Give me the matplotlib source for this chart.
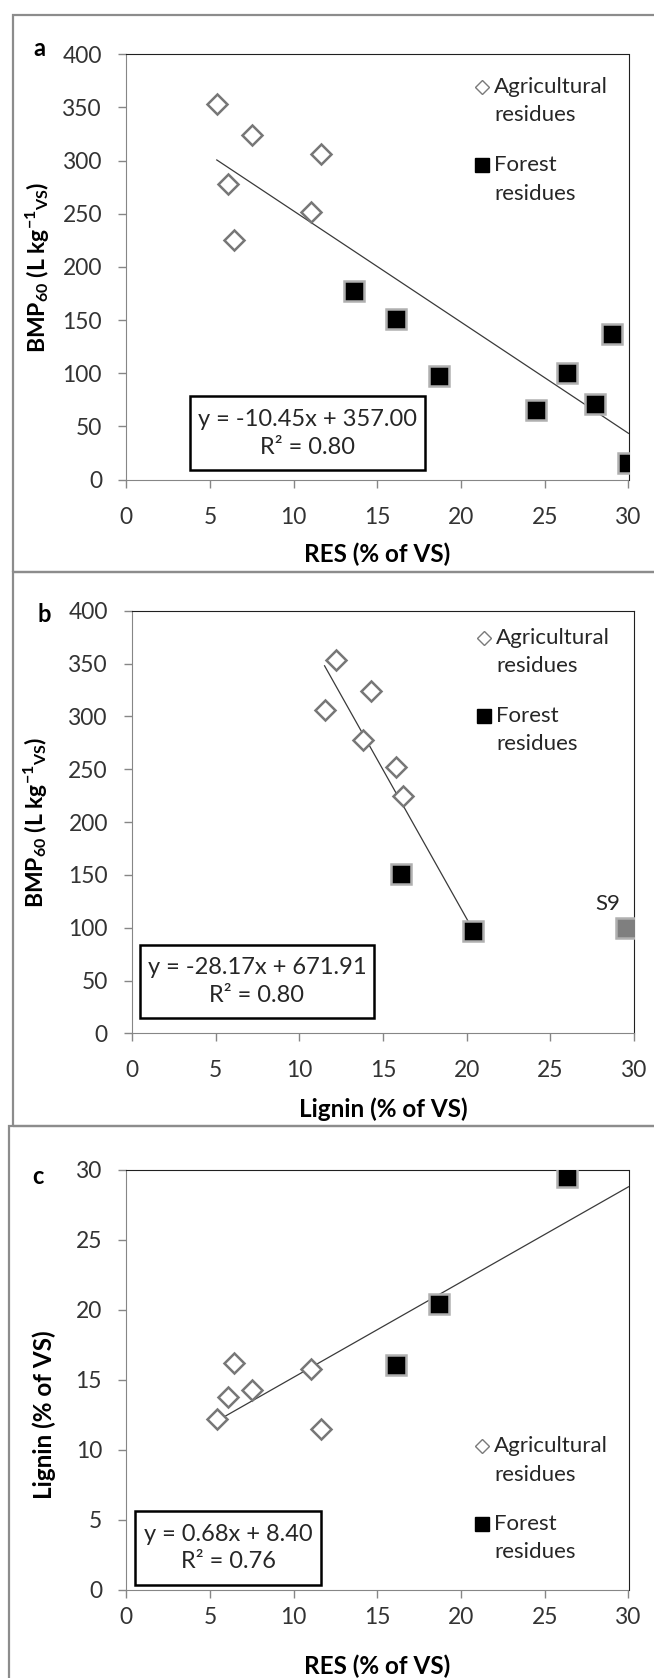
import numpy as np
import matplotlib
matplotlib.use("Agg")
import matplotlib.pyplot as plt
from matplotlib.patches import Rectangle

plt.rcParams['font.family'] = ['Lato', 'DejaVu Sans']
plt.rcParams['mathtext.default'] = 'regular'

# agricultural residues (same sample order in all lists)
ag_res = [5.4, 7.5, 11.6, 6.1, 11.0, 6.4]
ag_bmp = [353, 324, 306, 278, 252, 225]
ag_lignin = [12.2, 14.3, 11.5, 13.8, 15.8, 16.2]

# forest residues, lignin only measured for three of them
forest_res = [13.6, 16.1, 18.7, 24.5, 26.3, 28.0, 29.0, 30.0]
forest_bmp = [177, 151, 97, 65, 100, 71, 137, 16]
forest_lignin = [np.nan, 16.1, 20.4, np.nan, 29.5, np.nan, np.nan, np.nan]
outlier = 4  # S9, left out of the lignin fit

# trend lines as printed on the chart: slope, intercept, r2
fit_a = (-10.45, 357.00, 0.80)
fit_b = (-28.17, 671.91, 0.80)
fit_c = (0.68, 8.40, 0.76)

TICK_FS = 16.4
LEG_FS = 16
LAB_FS = 17.5
EQ_FS = 17
W, H = 654, 1678
fig = plt.figure(figsize=(W / 100, H / 100), dpi=100)


def px_axes(left, top, right, bottom):
    return fig.add_axes([left / W, 1 - bottom / H, (right - left) / W, (bottom - top) / H])


def frame(left, top, bottom):
    fig.patches.append(Rectangle((left / W, 1 - bottom / H), 1.2, (bottom - top) / H,
                                 transform=fig.transFigure, fill=False,
                                 ec='#8c8c8c', lw=1.6, zorder=0))


def style(ax, ymax, ystep, xpad):
    ax.set_xlim(0, 30)
    ax.set_ylim(0, ymax)
    ax.set_xticks(np.arange(0, 31, 5))
    ax.set_yticks(np.arange(0, ymax + 1, ystep))
    for s in ['left', 'bottom']:
        ax.spines[s].set_color('#868686')
    for s in ['top', 'right']:
        ax.spines[s].set_color('#202020')
    ax.tick_params(direction='out', length=5.5, width=1, color='#868686',
                   labelsize=TICK_FS, labelcolor='#333333')
    ax.tick_params(axis='x', pad=xpad)
    ax.tick_params(axis='y', pad=12)


def points(ax, ax_x, ay, fx, fy):
    ax.plot(ax_x, ay, 'D', ms=10, mfc='white', mec='#777777', mew=1.8, zorder=3)
    ax.plot(fx, fy, 's', ms=14, mfc='black', mec='#b0b0b0', mew=1.8, zorder=3)


def trend(ax, fit, x0, x1):
    xs = np.array([x0, x1])
    ax.plot(xs, fit[0] * xs + fit[1], color='#3a3a3a', lw=0.9, zorder=2)


def eq_box(ax, fit, x0, y0, x1, y1):
    ax.add_patch(Rectangle((x0, y0), x1 - x0, y1 - y0, transform=ax.transAxes,
                           fill=True, fc='white', ec='black', lw=1.8, zorder=4))
    txt = 'y = %.2fx + %.2f\nR² = %.2f' % (fit[0], fit[1], fit[2])
    ax.text((x0 + x1) / 2, (y0 + y1) / 2, txt, transform=ax.transAxes,
            ha='center', va='center', fontsize=EQ_FS, color='#262626',
            linespacing=1.4, zorder=5)


def legend(ax, x, y):
    ax.plot([x], [y], 'D', ms=7.5, mfc='white', mec='#7a7a7a', mew=1.0,
            transform=ax.transAxes, clip_on=False)
    ax.plot([x], [y - 0.185], 's', ms=9.5, mfc='black', mec='black',
            transform=ax.transAxes, clip_on=False)
    for dy, t in [(0, 'Agricultural'), (-0.067, 'residues'),
                  (-0.185, 'Forest'), (-0.252, 'residues')]:
        ax.text(x + 0.025, y + dy, t, transform=ax.transAxes, ha='left',
                va='center', fontsize=LEG_FS, color='#262626')


def labels(ax, xl, yl, xy_x, xy_y, yx, yy, yfs=LAB_FS):
    ax.set_xlabel(xl, fontsize=LAB_FS, fontweight='bold')
    ax.set_ylabel(yl, fontsize=yfs, fontweight='bold')
    ax.xaxis.set_label_coords(xy_x, xy_y)
    ax.xaxis.label.set_va('center')
    ax.yaxis.set_label_coords(yx, yy)
    ax.yaxis.label.set_va('center')


bmp_label = r'BMP$_{60}$ (L kg$^{-1}{}_{VS}$)'

# panel a
frame(12.5, 14.6, 572)
ax_a = px_axes(126.4, 54.2, 628.5, 479.6)
style(ax_a, 400, 50, 14)
points(ax_a, ag_res, ag_bmp, forest_res, forest_bmp)
all_res = ag_res + forest_res
trend(ax_a, fit_a, min(all_res), max(all_res))
eq_box(ax_a, fit_a, 0.126, 0.0215, 0.5955, 0.1965)
legend(ax_a, 0.7076, 0.9234)
labels(ax_a, 'RES (% of VS)', bmp_label, 0.5, -0.1765, -0.177, 0.5, 16.5)
fig.text(39.6 / W, 1 - 48 / H, 'a', fontsize=17, fontweight='bold', ha='center', va='center')

# panel b
frame(12.5, 572, 1126)
ax_b = px_axes(132.2, 610.8, 634, 1033.4)
style(ax_b, 400, 50, 14)
f_lig = [v for i, v in enumerate(forest_lignin) if not np.isnan(v) and i != outlier]
f_bmp = [forest_bmp[i] for i, v in enumerate(forest_lignin) if not np.isnan(v) and i != outlier]
points(ax_b, ag_lignin, ag_bmp, f_lig, f_bmp)
ax_b.plot([forest_lignin[outlier]], [forest_bmp[outlier]], 's', ms=14,
          mfc='#7f7f7f', mec='#b0b0b0', mew=1.8, zorder=3)
ax_b.annotate('S9', (forest_lignin[outlier], forest_bmp[outlier]), xytext=(-13, 17),
              textcoords='offset points', ha='center', va='center',
              fontsize=LEG_FS, color='#262626')
fit_x = ag_lignin + f_lig
trend(ax_b, fit_b, min(fit_x), max(fit_x))
eq_box(ax_b, fit_b, 0.015, 0.0364, 0.482, 0.210)
legend(ax_b, 0.7007, 0.9357)
labels(ax_b, 'Lignin (% of VS)', bmp_label, 0.5, -0.179, -0.193, 0.5, 16.5)
fig.text(43.8 / W, 1 - 614 / H, 'b', fontsize=17, fontweight='bold', ha='center', va='center')

# panel c
frame(9, 1126, 1700)
ax_c = px_axes(126.4, 1170, 628.5, 1590)
style(ax_c, 30, 5, 6.5)
f_res = [forest_res[i] for i, v in enumerate(forest_lignin) if not np.isnan(v)]
f_lig_all = [v for v in forest_lignin if not np.isnan(v)]
points(ax_c, ag_res, ag_lignin, f_res, f_lig_all)
trend(ax_c, fit_c, min(ag_res), 30)
eq_box(ax_c, fit_c, 0.018, 0.012, 0.388, 0.188)
legend(ax_c, 0.7076, 0.3417)
labels(ax_c, 'RES (% of VS)', 'Lignin (% of VS)', 0.5, -0.181, -0.1645, 0.417)
fig.text(38.4 / W, 1 - 1176 / H, 'c', fontsize=17, fontweight='bold', ha='center', va='center')

fig.savefig('out.png', dpi=100)
